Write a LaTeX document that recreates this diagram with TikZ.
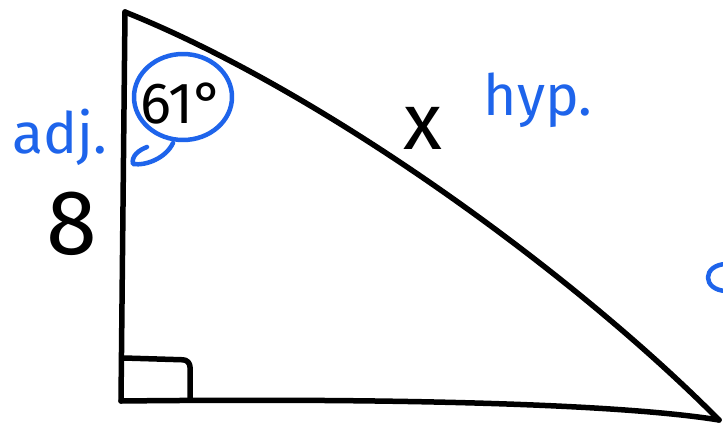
\documentclass[tikz,border=0pt]{standalone}
\usepackage{fontspec}
\setmainfont{Fira Sans}
\usetikzlibrary{shapes.geometric}
\definecolor{handblue}{RGB}{30,100,235}
\begin{document}
\begin{tikzpicture}[x=1pt,y=-1pt,line cap=round,line join=round,
  side/.style={line width=5.5pt,black},
  bluepen/.style={line width=4.5pt,handblue},
  eightlab/.style={inner sep=0pt,font=\fontsize{92}{92}\selectfont},
  xlabst/.style={inner sep=0pt,font=\fontsize{80}{80}\selectfont},
  anglab/.style={inner sep=0pt,font=\fontsize{58}{58}\selectfont},
  bluelab/.style={inner sep=0pt,text=handblue,font=\fontsize{57}{57}\selectfont}]
\useasboundingbox (0,0) rectangle (723,428);
\fill[white] (0,0) rectangle (723,428);
% vertices
\coordinate (A) at (125,12);
\coordinate (B) at (121,401);
\coordinate (C) at (719,420);
% sides
\draw[side] (A) -- (B);
\draw[side] (B) .. controls (400,398) and (620,404) .. (C);
\draw[side] (A) .. controls (320,90) and (570,270) .. (C);
% right angle mark
\coordinate (r1) at (124,358);
\coordinate (r2) at (190,360);
\coordinate (r3) at (190,400);
\draw[side,rounded corners=7pt] (r1) -- (r2) -- (r3);
% labels
\node[eightlab] (eight) at (72,224) {8};
\node[xlabst] (xlab) at (423,128) {x};
\node[anglab] (ang) at (182,104) {61°};
\node[bluelab] (adj) at (60,137) {adj.};
\node[bluelab] (hyp) at (538,100) {hyp.};
% circle around angle
\node[draw=handblue,line width=4.5pt,ellipse,minimum width=98pt,minimum height=86pt,inner sep=0pt] (circ) at (183,97) {};
\coordinate (t1) at (173,143);
\coordinate (t2) at (133,164);
\coordinate (t3) at (147,147);
\draw[bluepen] (t1) .. controls (166,158) and (146,166) .. (t2) .. controls (131,156) and (139,150) .. (t3);
% blue arc at right edge
\coordinate (b1) at (726,264);
\coordinate (b2) at (726,291);
\draw[bluepen] (b1) .. controls (702,265) and (702,290) .. (b2);
\end{tikzpicture}
\end{document}
